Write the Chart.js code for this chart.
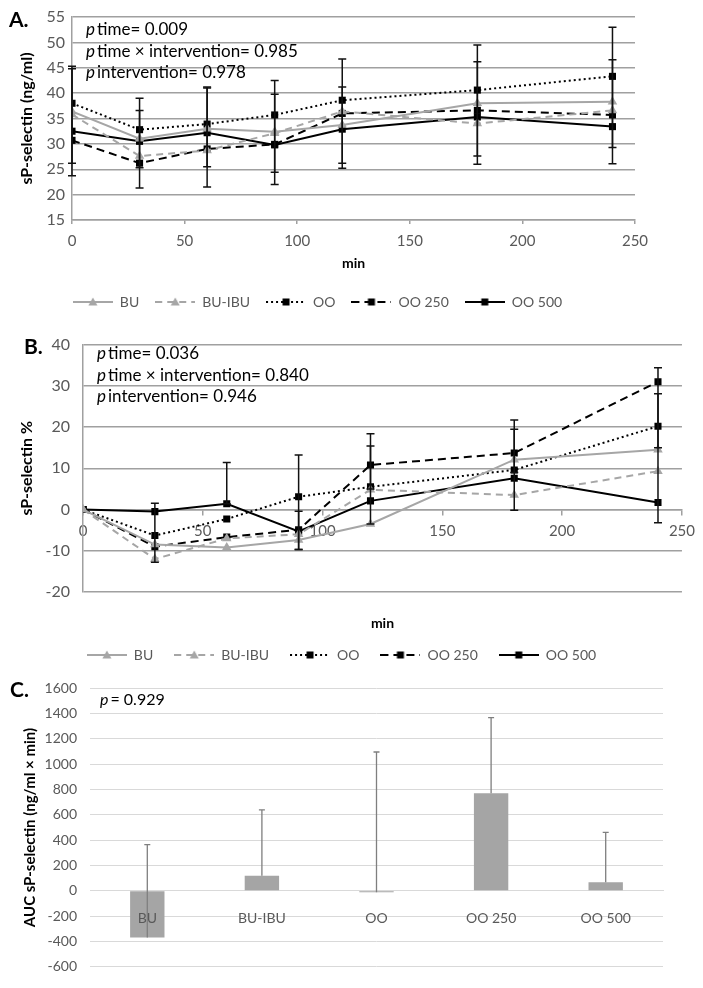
<!DOCTYPE html>
<html>
<head>
<meta charset="utf-8">
<script src="https://cdn.jsdelivr.net/npm/chart.js@4.4.1/dist/chart.umd.min.js"></script>
<style>
html, body { margin: 0; padding: 0; background: #fff; }
body { width: 703px; height: 988px; position: relative; overflow: hidden; }
.box { position: absolute; left: 0; width: 703px; }
</style>
</head>
<body>
<div class="box" style="top:0;height:322px"><canvas id="chartA"></canvas></div>
<div class="box" style="top:322px;height:350px"><canvas id="chartB"></canvas></div>
<div class="box" style="top:667px;height:321px"><canvas id="chartC"></canvas></div>
<script>
// time points (min) and groups
const times = [0, 30, 60, 90, 120, 180, 240];
const groups = ['BU', 'BU-IBU', 'OO', 'OO 250', 'OO 500'];

// A. sP-selectin (ng/ml)
const aBU    = [36.4, 31.0, 33.0, 32.4, 33.7, 38.0, 38.3];
const aBUIBU = [35.8, 27.6, 28.7, 32.1, 36.4, 34.0, 36.6];
const aOO    = [38.0, 32.8, 33.9, 35.7, 38.6, 40.6, 43.3];
const aOO250 = [30.7, 26.2, 29.0, 29.9, 36.0, 36.6, 35.7];
const aOO500 = [32.5, 30.5, 32.2, 29.8, 32.9, 35.3, 33.4];
const aErrLow1  = [23.7, 21.3, 21.5, 22.0, 25.2, 26.0, 26.1];
const aErrHigh1 = [45.3, 39.0, 41.2, 42.5, 46.7, 49.5, 53.0];
const aErrLow2  = [26.2, 25.3, 25.5, 24.4, 26.2, 27.6, 29.3];
const aErrHigh2 = [44.8, 36.6, 41.0, 39.8, 41.2, 46.2, 46.6];

// B. sP-selectin % change
const bBU    = [0, -8.5, -9.2, -7.4, -3.5, 12.1, 14.5];
const bBUIBU = [0, -12.0, -7.0, -6.0, 4.8, 3.5, 9.3];
const bOO    = [0, -6.3, -2.3, 3.1, 5.5, 9.6, 20.2];
const bOO250 = [0, -9.0, -6.7, -4.9, 10.8, 13.7, 31.0];
const bOO500 = [0, -0.5, 1.4, -5.3, 2.1, 7.6, 1.7];
const bErrLow1  = [null, -12.8, 1.4, -9.7, -3.5, -0.2, -3.2];
const bErrHigh1 = [null, 1.5, 11.4, 13.2, 18.4, 21.7, 34.4];
const bErrLow2  = [null, null, null, -9.7, 5.0, 9.0, 15.0];
const bErrHigh2 = [null, null, null, -0.4, 15.4, 19.5, 28.1];

// C. AUC sP-selectin
const cAUC = [-370, 118, -12, 771, 68];
const cSD  = [735, 521, 1109, 598, 394];

const GRAY = '#a6a6a6';
const GRID = '#a0a0a0';
const TICK = '#595959';
Chart.defaults.font.family = 'Lato';
Chart.defaults.animation = false;

const styles = [
  {color: GRAY, dash: [], marker: 'triangle'},
  {color: GRAY, dash: [7, 5], marker: 'triangle'},
  {color: '#000', dash: [2, 3], marker: 'rect'},
  {color: '#000', dash: [8, 5], marker: 'rect'},
  {color: '#000', dash: [], marker: 'rect'}
];

function lineSets(values) {
  return values.map((v, k) => ({
    label: groups[k],
    data: times.map((t, i) => ({x: t, y: v[i]})),
    borderColor: styles[k].color,
    backgroundColor: styles[k].color,
    borderWidth: 2,
    borderDash: styles[k].dash,
    pointStyle: styles[k].marker,
    pointRadius: styles[k].marker == 'rect' ? 5 : 5.5,
    pointBorderWidth: 0,
    tension: 0
  }));
}

// little line + marker pictures for the legend
function sample(st) {
  const c = document.createElement('canvas');
  c.width = 40; c.height = 12;
  const g = c.getContext('2d');
  g.strokeStyle = st.color; g.fillStyle = st.color; g.lineWidth = 2;
  g.setLineDash(st.dash);
  g.beginPath(); g.moveTo(0, 6); g.lineTo(40, 6); g.stroke();
  if (st.marker == 'rect') {
    g.fillRect(16.5, 2.5, 7, 7);
  } else {
    g.beginPath(); g.moveTo(20, 1.5); g.lineTo(24.5, 9.5); g.lineTo(15.5, 9.5); g.closePath(); g.fill();
  }
  return c;
}
const samples = styles.map(sample);

function legendOpts(pad) {
  return {
    position: 'bottom',
    labels: {
      usePointStyle: true,
      pointStyleWidth: 40,
      padding: pad,
      color: TICK,
      font: {size: 14},
      generateLabels: chart => chart.data.datasets.map((d, i) => ({
        text: d.label, pointStyle: samples[i], datasetIndex: i, hidden: false,
        fontColor: TICK, lineWidth: 0, fillStyle: 'rgba(0,0,0,0)', strokeStyle: 'rgba(0,0,0,0)'
      }))
    }
  };
}

const errorBars = {
  id: 'errorBars',
  afterDatasetsDraw(chart, args, opts) {
    const ctx = chart.ctx, xs = chart.scales.x, ys = chart.scales.y;
    ctx.save();
    ctx.strokeStyle = opts.color;
    ctx.lineWidth = opts.width;
    opts.bars.forEach(b => {
      b.low.forEach((lo, i) => {
        const hi = b.high[i];
        if (lo == null || hi == null) return;
        const px = opts.category ? xs.getPixelForValue(i) : xs.getPixelForValue(times[i]);
        const y1 = ys.getPixelForValue(lo), y2 = ys.getPixelForValue(hi);
        ctx.beginPath();
        ctx.moveTo(px, y1); ctx.lineTo(px, y2);
        if (!opts.topOnly) { ctx.moveTo(px - opts.cap, y1); ctx.lineTo(px + opts.cap, y1); }
        ctx.moveTo(px - opts.cap, y2); ctx.lineTo(px + opts.cap, y2);
        ctx.stroke();
      });
    });
    ctx.restore();
  }
};

const notes = {
  id: 'notes',
  afterDraw(chart, args, opts) {
    const ctx = chart.ctx;
    ctx.save();
    ctx.fillStyle = '#000';
    ctx.textBaseline = 'middle';
    ctx.font = 'bold 21px Lato';
    ctx.fillText(opts.letter, opts.lx, opts.ly);
    opts.lines.forEach((t, i) => {
      let x = opts.x;
      const y = opts.y + i * opts.gap;
      ctx.font = 'italic ' + opts.size + 'px Lato';
      ctx.fillText('p', x, y);
      x += ctx.measureText('p').width + 2;
      ctx.font = opts.size + 'px Lato';
      ctx.fillText(t, x, y);
    });
    ctx.restore();
  }
};

// ---- A ----
new Chart(document.getElementById('chartA'), {
  type: 'line',
  data: {datasets: lineSets([aBU, aBUIBU, aOO, aOO250, aOO500])},
  options: {
    responsive: true,
    maintainAspectRatio: false,
    layout: {padding: {top: 17, right: 68, left: 0, bottom: 3}},
    scales: {
      x: {
        type: 'linear', min: 0, max: 250,
        ticks: {stepSize: 50, color: TICK, font: {size: 15}, padding: 8},
        grid: {drawOnChartArea: false, drawTicks: true, tickLength: 4, color: GRID, lineWidth: 1.5},
        border: {color: GRID, width: 1.5},
        title: {display: true, text: 'min', color: '#000', font: {size: 14, weight: 'bold'}, padding: {top: 0, bottom: 7}},
        afterFit: s => { s.height = 59; }
      },
      y: {
        min: 15, max: 55,
        ticks: {stepSize: 5, color: TICK, font: {size: 16}, padding: 7},
        grid: {color: GRID, lineWidth: 1.5, drawTicks: false},
        border: {color: GRID, width: 1.5},
        title: {display: true, text: 'sP-selectin (ng/ml)', color: '#000', font: {size: 16, weight: 'bold'}, padding: {top: 17, bottom: 0}},
        afterFit: s => { s.width = 72; }
      }
    },
    plugins: {
      legend: legendOpts(16),
      tooltip: {enabled: false},
      errorBars: {color: '#111', width: 1.5, cap: 4, bars: [
        {low: aErrLow1, high: aErrHigh1}, {low: aErrLow2, high: aErrHigh2}]},
      notes: {letter: 'A.', lx: 9, ly: 20, x: 86, y: 30, gap: 21.5, size: 17,
        lines: ['time= 0.009', 'time × intervention= 0.985', 'intervention= 0.978']}
    }
  },
  plugins: [errorBars, notes]
});

// ---- B ----
new Chart(document.getElementById('chartB'), {
  type: 'line',
  data: {datasets: lineSets([bBU, bBUIBU, bOO, bOO250, bOO500])},
  options: {
    responsive: true,
    maintainAspectRatio: false,
    layout: {padding: {top: 21, right: 20, left: 0, bottom: 0}},
    scales: {
      x: {
        type: 'linear', min: 0, max: 250, position: {y: 0},
        ticks: {stepSize: 50, color: TICK, font: {size: 15}, padding: 8},
        grid: {drawOnChartArea: false, drawTicks: true, tickLength: 5, color: GRID, lineWidth: 1.5},
        border: {color: GRID, width: 1.5}
      },
      x2: {
        type: 'linear', position: 'bottom', min: 0, max: 1,
        ticks: {display: false}, grid: {display: false}, border: {display: false},
        title: {display: true, text: 'min', color: '#000', font: {size: 14, weight: 'bold'}, padding: {top: 0, bottom: -5}},
        afterFit: s => { s.height = 35; }
      },
      y: {
        min: -20, max: 40,
        ticks: {stepSize: 10, color: TICK, font: {size: 16}, padding: 13},
        grid: {color: GRID, lineWidth: 1.5, drawTicks: false},
        border: {color: GRID, width: 1.5},
        title: {display: true, text: 'sP-selectin %', color: '#000', font: {size: 16, weight: 'bold'}, padding: {top: 17, bottom: 0}},
        afterFit: s => { s.width = 83; }
      }
    },
    plugins: {
      legend: legendOpts(21),
      tooltip: {enabled: false},
      errorBars: {color: '#111', width: 1.5, cap: 4, bars: [
        {low: bErrLow1, high: bErrHigh1}, {low: bErrLow2, high: bErrHigh2}]},
      notes: {letter: 'B.', lx: 24, ly: 25, x: 97, y: 32, gap: 21.5, size: 17,
        lines: ['time= 0.036', 'time × intervention= 0.840', 'intervention= 0.946']}
    }
  },
  plugins: [errorBars, notes]
});

// ---- C ----
new Chart(document.getElementById('chartC'), {
  type: 'bar',
  data: {
    labels: groups,
    datasets: [{label: 'AUC', data: cAUC, backgroundColor: '#a5a5a5', barPercentage: 0.3, categoryPercentage: 1}]
  },
  options: {
    responsive: true,
    maintainAspectRatio: false,
    layout: {padding: {top: 19, right: 40, left: 0, bottom: 13}},
    scales: {
      x: {
        position: {y: 0},
        ticks: {color: TICK, font: {size: 14}, padding: 11, z: 1},
        grid: {display: false},
        border: {color: '#d9d9d9', width: 1}
      },
      y: {
        min: -600, max: 1600,
        ticks: {stepSize: 200, color: TICK, font: {size: 14}, padding: 13, callback: v => String(v)},
        grid: {color: '#d9d9d9', lineWidth: 1, drawTicks: false},
        border: {display: false},
        title: {display: true, text: 'AUC sP-selectin (ng/ml × min)', color: '#000', font: {size: 15, weight: 'bold'}, padding: {top: 21, bottom: 0}},
        afterFit: s => { s.width = 90; }
      }
    },
    plugins: {
      legend: {display: false},
      tooltip: {enabled: false},
      errorBars: {color: '#7f7f7f', width: 1.3, cap: 3, category: true, topOnly: true, bars: [
        {low: cAUC, high: cAUC.map((v, i) => v + cSD[i])}]},
      notes: {letter: 'C.', lx: 10, ly: 23, x: 100, y: 33, gap: 0, size: 16, lines: ['= 0.929']}
    }
  },
  plugins: [errorBars, notes]
});
</script>
</body>
</html>
